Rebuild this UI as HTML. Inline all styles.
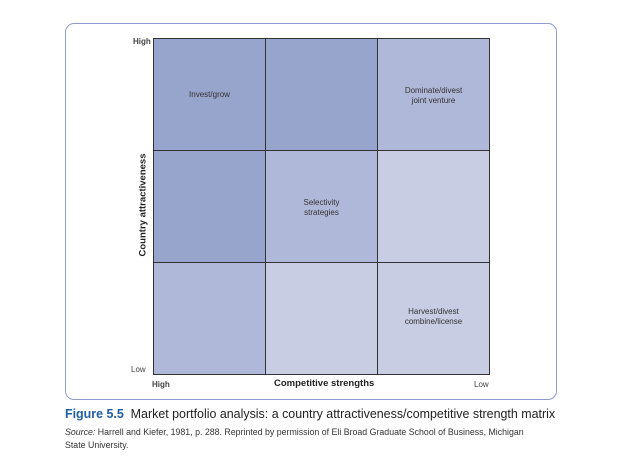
<!DOCTYPE html>
<html><head><style>
body{margin:0;width:630px;height:457px;background:#fff;position:relative;font-family:"Liberation Sans",sans-serif;overflow:hidden}
.box{position:absolute;left:65px;top:23px;width:492px;height:377px;border:1px solid #8e9dd0;border-radius:9px;box-sizing:border-box}
.c{position:absolute;box-sizing:border-box;border:1px solid #333;font-size:8px;color:#333;text-align:center;font-family:"Liberation Sans Narrow","Liberation Sans",sans-serif;line-height:10px}
.d{background:#97a5cc}.m{background:#afb8d8}.l{background:#c8cde3}
.t{position:absolute;font-size:8px;color:#444;font-family:"Liberation Sans Narrow","Liberation Sans",sans-serif}
</style></head><body>
<div class="box"></div>
<div class="c d" style="left:153px;top:38px;width:113px;height:113px"><div style="margin-top:51px">Invest/grow</div></div>
<div class="c d" style="left:265px;top:38px;width:113px;height:113px"></div>
<div class="c m" style="left:377px;top:38px;width:113px;height:113px"><div style="margin-top:47px">Dominate/divest<br>joint venture</div></div>
<div class="c d" style="left:153px;top:150px;width:113px;height:113px"></div>
<div class="c m" style="left:265px;top:150px;width:113px;height:113px"><div style="margin-top:47px">Selectivity<br>strategies</div></div>
<div class="c l" style="left:377px;top:150px;width:113px;height:113px"></div>
<div class="c m" style="left:153px;top:262px;width:113px;height:113px"></div>
<div class="c l" style="left:265px;top:262px;width:113px;height:113px"></div>
<div class="c l" style="left:377px;top:262px;width:113px;height:113px"><div style="margin-top:44px">Harvest/divest<br>combine/license</div></div>
<div class="t" style="left:133px;top:37px;font-weight:bold;color:#444">High</div>
<div class="t" style="left:131px;top:365px">Low</div>
<div class="t" style="left:152px;top:380px;font-weight:bold">High</div>
<div class="t" style="left:474px;top:380px">Low</div>
<div class="t" style="left:274px;top:378px;font-weight:bold;font-size:9.5px;color:#222">Competitive strengths</div>
<div class="t" style="left:143px;top:205px;transform:translate(-50%,-50%) rotate(-90deg);font-weight:bold;font-size:9.5px;color:#222;white-space:nowrap">Country attractiveness</div>
<div style="position:absolute;left:65px;top:407px;font-size:12.45px;color:#222;white-space:nowrap"><b style="color:#1f5fa6">Figure 5.5</b>&nbsp; Market portfolio analysis: a country attractiveness/competitive strength matrix</div>
<div style="position:absolute;left:65px;top:426px;font-size:8.8px;color:#333;line-height:12.5px;width:478px"><i>Source:</i> Harrell and Kiefer, 1981, p. 288. Reprinted by permission of Eli Broad Graduate School of Business, Michigan State University.</div>
</body></html>
